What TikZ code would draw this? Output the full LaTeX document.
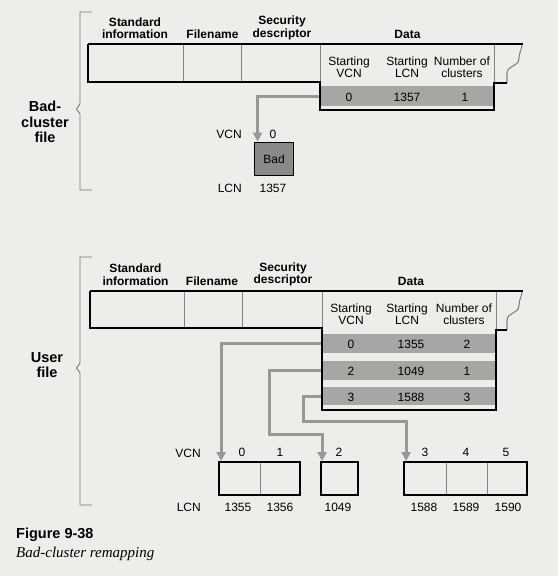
\documentclass[tikz,border=0pt]{standalone}
\usepackage{fontspec}
\setmainfont{Liberation Sans}
\newfontfamily\capserif{Liberation Serif}
\usetikzlibrary{arrows.meta,calc}
\definecolor{paper}{RGB}{237,237,235}
\definecolor{shadeg}{RGB}{166,166,166}
\definecolor{badg}{RGB}{138,138,138}
\definecolor{arrg}{RGB}{152,152,152}
\definecolor{thing}{RGB}{130,130,130}
\definecolor{brk}{RGB}{120,120,120}
\begin{document}
\begin{tikzpicture}[x=1pt,y=-1pt,
  hdr/.style={font=\bfseries\fontsize{12}{12.5}\selectfont, align=center, inner sep=0pt},
  sub/.style={font=\fontsize{12}{12}\selectfont, align=center, inner sep=0pt},
  num/.style={font=\fontsize{12}{12}\selectfont, inner sep=0pt},
  side/.style={font=\bfseries\fontsize{14.5}{15.5}\selectfont, align=center, inner sep=0pt},
  blk/.style={line width=1.8pt, black, line join=miter},
  thinl/.style={line width=0.8pt, thing},
  wavel/.style={line width=1.1pt, thing},
  brkl/.style={line width=0.9pt, brk},
  rowbox/.style={fill=shadeg, draw=none, inner sep=0pt},
  cellbox/.style={draw=black, line width=1.8pt, fill=none, inner sep=0pt, minimum height=33pt},
  badbox/.style={draw=black, line width=1.8pt, fill=badg, inner sep=0pt, minimum width=39pt, minimum height=33pt, font=\fontsize{12}{12}\selectfont},
  arr/.style={draw=arrg, line width=3pt, -{Triangle[width=9pt,length=9pt]}}
]
\useasboundingbox[fill=paper] (0,0) rectangle (558,576);

% ================= Bad-cluster file =================
\draw[brkl] (92,12) -- (80,12) -- (80,104) -- (76.5,109) -- (80,114) -- (80,190) -- (92,190);
\node[side] (badlbl) at (45,122) {Bad-\\cluster\\file};

\node[hdr] (bstd) at (135,28) {Standard\\information};
\node[hdr] (bfn) at (212.5,34.5) {Filename};
\node[hdr] (bsec) at (282,28) {Security\\descriptor};
\node[hdr] (bdata) at (407.5,34.5) {Data};

\node[sub] (bhv) at (349,67) {Starting\\VCN};
\node[sub] (bhl) at (407,67) {Starting\\LCN};
\node[sub] (bhn) at (462,67) {Number of\\clusters};

\node[rowbox, minimum width=173pt, minimum height=20pt] (brow) at (407.5,96) {};
\node[num] (bv0) at (349,97) {0};
\node[num] (bl0) at (407,97) {1357};
\node[num] (bn0) at (465,97) {1};

\node[badbox] (bad) at (274,159) {Bad};
\node[num, anchor=east] (bvcn) at (242,134) {VCN};
\node[num] (bvcn0) at (273,134) {0};
\node[num, anchor=east] (blcn) at (242,188) {LCN};
\node[num] (blcn0) at (273,188) {1357};

\draw[arr] (brow.west) -| ($(bad.north west)+(4,0)$);

\draw[thinl] (183,44) -- (183,82) (241,44) -- (241,82) (320,44) -- (320,82) (494,44) -- (494,83);
\draw[wavel] (507,83) -- (507,74) .. controls (507,64) and (519,68) .. (519,58) .. controls (519,52) and (522,50) .. (522,44);
\draw[blk] (88,44) -- (523,44);
\draw[blk] (88,44) -- (88,82) -- (320,82) -- (320,110) -- (494,110) -- (494,83) -- (507,83);

% ================= User file =================
\draw[brkl] (92,257) -- (80,257) -- (80,363) -- (76.5,368) -- (80,373) -- (80,505) -- (92,505);
\node[side] (userlbl) at (47,365) {User\\file};

\node[hdr] (ustd) at (135.5,274.5) {Standard\\information};
\node[hdr] (ufn) at (212,281.5) {Filename};
\node[hdr] (usec) at (283,274.5) {Security\\descriptor};
\node[hdr] (udata) at (411,281.5) {Data};

\node[sub] (uhv) at (351,314) {Starting\\VCN};
\node[sub] (uhl) at (407,314) {Starting\\LCN};
\node[sub] (uhn) at (464,314) {Number of\\clusters};

\node[rowbox, minimum width=172pt, minimum height=19pt] (ur0) at (409,343.5) {};
\node[rowbox, minimum width=172pt, minimum height=19pt] (ur1) at (409,370.5) {};
\node[rowbox, minimum width=172pt, minimum height=18pt] (ur2) at (409,396) {};
\node[num] (uv0) at (351,344) {0};
\node[num] (ul0) at (411,344) {1355};
\node[num] (un0) at (467,344) {2};
\node[num] (uv1) at (351,371.5) {2};
\node[num] (ul1) at (411,371.5) {1049};
\node[num] (un1) at (467,371.5) {1};
\node[num] (uv2) at (351,397.5) {3};
\node[num] (ul2) at (411,397.5) {1588};
\node[num] (un2) at (467,397.5) {3};

\node[cellbox, minimum width=81pt] (ub01) at (259.5,478.5) {};
\node[cellbox, minimum width=37pt] (ub2) at (339.5,478.5) {};
\node[cellbox, minimum width=123pt] (ub345) at (465.5,478.5) {};
\draw[thinl] (260,463) -- (260,494) (446,463) -- (446,494) (487,463) -- (487,494);

\node[num, anchor=east] (uvcn) at (201,453) {VCN};
\node[num] (uc0) at (242,452) {0};
\node[num] (uc1) at (280,452) {1};
\node[num] (uc2) at (339,452) {2};
\node[num] (uc3) at (425,452) {3};
\node[num] (uc4) at (466,452) {4};
\node[num] (uc5) at (506,452) {5};
\node[num, anchor=east] (ulcn) at (201,507) {LCN};
\node[num] (ud0) at (238,507) {1355};
\node[num] (ud1) at (280,507) {1356};
\node[num] (ud2) at (338,507) {1049};
\node[num] (ud3) at (424,507) {1588};
\node[num] (ud4) at (466,507) {1589};
\node[num] (ud5) at (508,507) {1590};

\coordinate (k2) at (269,434);
\coordinate (k3) at (303,421);
\draw[arr] (ur0.west) -| ($(ub01.north west)+(3,0)$);
\draw[arr] (ur1.west) -| (k2) -| ($(ub2.north west)+(2,0)$);
\draw[arr] (ur2.west) -| (k3) -| ($(ub345.north west)+(3,0)$);

\draw[thinl] (184,291) -- (184,328) (242,291) -- (242,328) (322,291) -- (322,328) (496,291) -- (496,330);
\draw[wavel] (507,330) -- (507,321) .. controls (507,311) and (519,315) .. (519,305) .. controls (519,299) and (522,297) .. (522,291);
\draw[blk] (90,291) -- (523,291);
\draw[blk] (90,291) -- (90,328) -- (322,328) -- (322,410) -- (496,410) -- (496,330) -- (507,330);

% ================= Caption =================
\node[anchor=west, inner sep=0pt, font=\bfseries\fontsize{14.5}{15}\selectfont] (fig) at (16,535) {Figure 9-38};
\node[anchor=west, inner sep=0pt, font=\capserif\itshape\fontsize{15}{16}\selectfont] (cap) at (16,554) {Bad-cluster remapping};
\end{tikzpicture}
\end{document}
